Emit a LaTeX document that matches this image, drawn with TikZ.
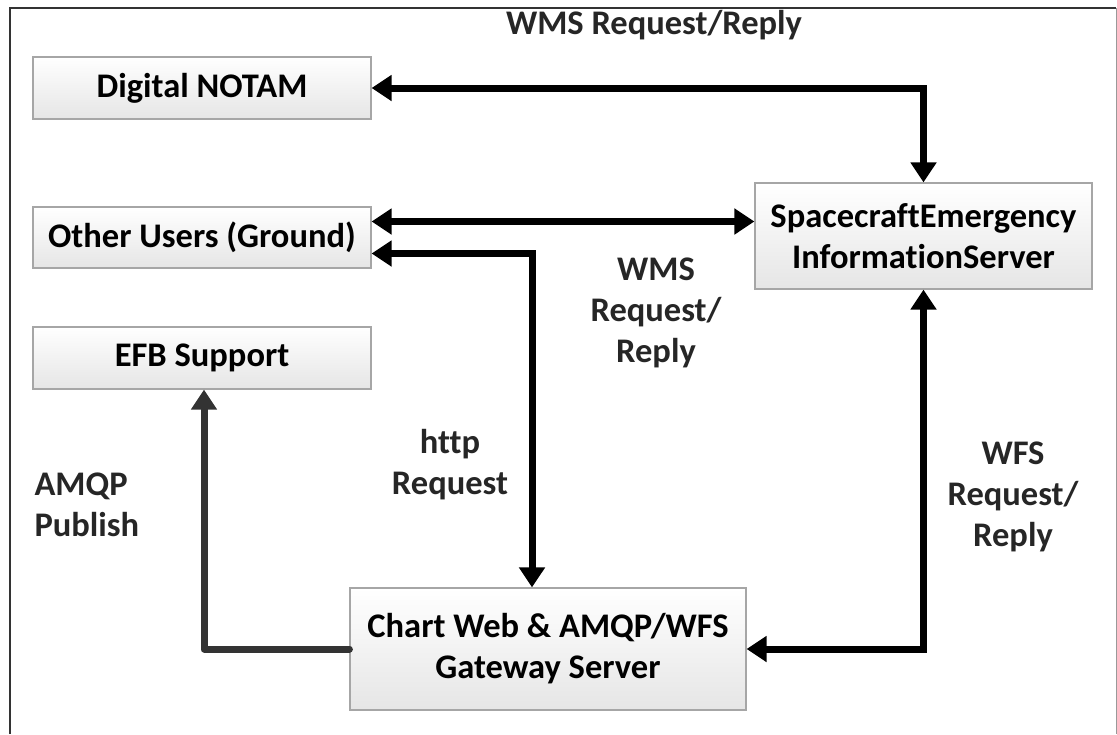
\documentclass[tikz,border=0pt]{standalone}
\usepackage{fontspec}
\setmainfont{Carlito}[Ligatures={TeX,NoCommon}]
\usetikzlibrary{arrows.meta}

\begin{document}
\begin{tikzpicture}[x=1pt,y=-1pt,
  box/.style={draw=black!35, line width=1.2pt, top color=white, bottom color=black!10,
    font=\bfseries\fontsize{34.5}{41}\selectfont, align=center, inner sep=0pt},
  lbl/.style={font=\bfseries\fontsize{34.5}{41}\selectfont, align=center, text=black!85},
  link/.style={line width=7pt, black, {Triangle[length=20pt,width=25pt]}-{Triangle[length=20pt,width=25pt]}},
  pub/.style={line width=7pt, black!80, line join=round, line cap=round, -{Triangle[length=20pt,width=25pt]}}
]
\useasboundingbox (0,0) rectangle (1117,734);

% frame
\draw[line width=2pt, black!80] (10,734) -- (10,8) -- (1116,8);
\draw[line width=1pt, black!40] (1116,8) -- (1116,734);

% boxes
\node[box, minimum width=338pt, minimum height=62pt] (notam) at (202,88) {Digital NOTAM};
\node[box, minimum width=338pt, minimum height=61pt] (other) at (202,237.5) {Other Users (Ground)};
\node[box, minimum width=338pt, minimum height=62pt] (efb) at (202,358) {EFB Support};
\node[box, minimum width=337pt, minimum height=106pt] (seis) at (923.5,236) {SpacecraftEmergency\\InformationServer};
\node[box, minimum width=396pt, minimum height=122pt] (chart) at (548,649) {Chart Web \& AMQP/WFS\\Gateway Server};

% connectors
\draw[link] (notam.east) -| (seis.north);
\draw[link] ([yshift=16pt]other.east) -- ([yshift=16pt]other.east -| seis.west);
\draw[link] ([yshift=-16pt]other.east) -| ([xshift=-16pt]chart.north);
\draw[pub] (chart.west) -| ([xshift=2pt]efb.south);
\draw[link] (chart.east) -| (seis.south);

% labels
\node[lbl] (l1) at (654,25) {WMS Request/Reply};
\node[lbl] (l2) at (656,313) {WMS\\Request/\\Reply};
\node[lbl] (l3) at (450,465) {http\\Request};
\node[lbl, align=left, anchor=west] (l4) at (31,505) {AMQP\\Publish};
\node[lbl] (l5) at (1013,497) {WFS\\Request/\\Reply};
\end{tikzpicture}
\end{document}
